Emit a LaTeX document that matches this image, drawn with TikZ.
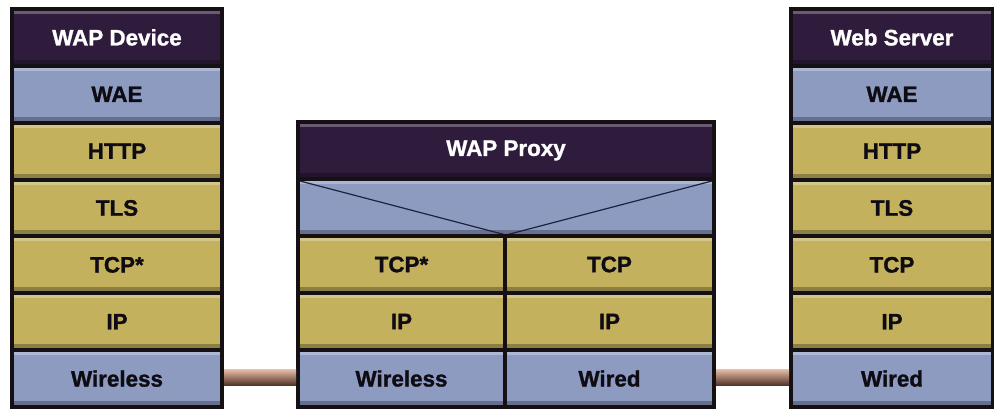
\documentclass[tikz,border=0pt]{standalone}
\usepackage{fontspec}
\setmainfont{Liberation Sans}[BoldFeatures={FakeBold=1.2}]
\usetikzlibrary{calc}

\definecolor{hdr}{HTML}{2F1C3D}
\definecolor{blu}{HTML}{8E9BC1}
\definecolor{kha}{HTML}{C3B15E}
\definecolor{edgec}{HTML}{141014}
\definecolor{txtc}{HTML}{0E0C12}
\definecolor{linkt}{HTML}{E6BBA6}
\definecolor{linkm}{HTML}{B98370}
\definecolor{linkb}{HTML}{4E3026}
\definecolor{vlinec}{HTML}{1C2240}

\tikzset{
  cell/.style={draw=edgec, line width=3pt, inner sep=0pt,
    font=\bfseries\fontsize{16.8}{19}\selectfont, text=txtc,
    path picture={
      \fill[white, opacity=.28] (path picture bounding box.north west)
        rectangle ([yshift=-3.8pt]path picture bounding box.north east);
      \fill[black, opacity=.28] (path picture bounding box.south west)
        rectangle ([yshift=4.5pt]path picture bounding box.south east);
    }},
  hdrcell/.style={cell, fill=hdr, text=white},
  bluecell/.style={cell, fill=blu},
  khacell/.style={cell, fill=kha},
  sidew/.style={minimum width=157.5pt, minimum height=42.64pt},
  srvw/.style={minimum width=151.5pt, minimum height=42.64pt},
  proxyw/.style={minimum width=312pt, minimum height=42.75pt},
  halfl/.style={minimum width=155.25pt, minimum height=42.75pt},
  halfr/.style={minimum width=156.75pt, minimum height=42.75pt},
  vline/.style={draw=vlinec, line width=0.9pt},
  link/.style={top color=linkt, middle color=linkm, bottom color=linkb}
}

\begin{document}
\begin{tikzpicture}[x=0.75pt, y=-0.75pt]
  % canvas
  \fill[white] (0,0) rectangle (994,409);
  \useasboundingbox (0,0) rectangle (994,409);

  % client stack
  \foreach \n/\t/\s [count=\i from 0] in {
      ld/WAP Device/hdrcell, lwae/WAE/bluecell, lhttp/HTTP/khacell,
      ltls/TLS/khacell, ltcp/TCP*/khacell, lip/IP/khacell,
      lwl/Wireless/bluecell}
    \node[\s, sidew] (\n) at (117, 9+56.857*\i+28.43) {\t};

  % server stack
  \foreach \n/\t/\s [count=\i from 0] in {
      rd/Web Server/hdrcell, rwae/WAE/bluecell, rhttp/HTTP/khacell,
      rtls/TLS/khacell, rtcp/TCP/khacell, rip/IP/khacell,
      rwl/Wired/bluecell}
    \node[\s, srvw] (\n) at (892, 9+56.857*\i+28.43) {\t};

  % proxy stack
  \node[hdrcell, proxyw] (mhdr) at (506, 122+28.5) {WAP Proxy};
  \node[bluecell, proxyw] (mwae) at (506, 179+28.5) {};
  \draw[vline] ($(mwae.north west)+(4,4)$) -- ($(mwae.south)+(0,-3)$)
               -- ($(mwae.north east)+(-4,4)$);

  \foreach \n/\t/\s [count=\i from 0] in {
      mtcpa/TCP*/khacell, mipa/IP/khacell, mwl/Wireless/bluecell}
    \node[\s, halfl] (\n) at (401.5, 236+57*\i+28.5) {\t};
  \foreach \n/\t/\s [count=\i from 0] in {
      mtcpb/TCP/khacell, mipb/IP/khacell, mwd/Wired/bluecell}
    \node[\s, halfr] (\n) at (609.5, 236+57*\i+28.5) {\t};

  % physical links
  \shade[link] ($(lwl.east)+(0,-9)$) rectangle ($(mwl.west)+(0,7)$);
  \shade[link] ($(mwd.east)+(0,-9)$) rectangle ($(rwl.west)+(0,7)$);
\end{tikzpicture}
\end{document}
